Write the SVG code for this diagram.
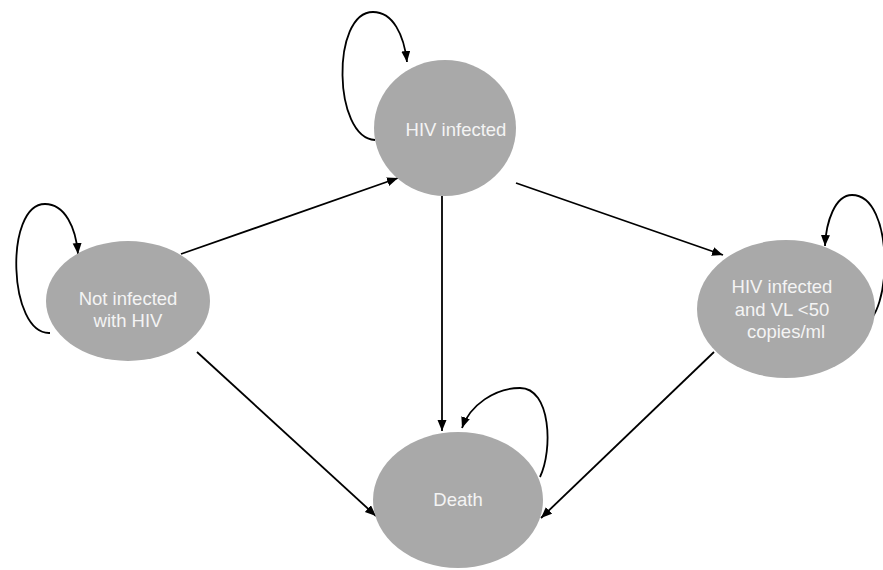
<svg xmlns="http://www.w3.org/2000/svg" width="883" height="570" viewBox="0 0 883 570">
<style>
.node{fill:#a9a9a9;}
.lbl{font-family:"Liberation Sans",Arial,sans-serif;font-size:18.5px;fill:#f4f4f4;text-anchor:middle;}
.edge{fill:none;stroke:#000;stroke-width:1.8;marker-end:url(#ah);}
</style>
<defs>
<marker id="ah" markerUnits="userSpaceOnUse" markerWidth="12" markerHeight="10" refX="11" refY="4.5" orient="auto">
<path d="M0,0 L11,4.5 L0,9 z" fill="#000"/>
</marker>
</defs>
<rect width="883" height="570" fill="#fff"/>
<g id="connectors">
<path class="edge" d="M181,254 L398,178"/>
<path class="edge" d="M442,196 L442,431"/>
<path class="edge" d="M516,183 L723,255"/>
<path class="edge" d="M197,352 L376,516"/>
<path class="edge" d="M714,352 L541,518"/>
<path class="edge" d="M375,140 C333,138 331,12 373,12 C393,12 404,35 407,62"/>
<path class="edge" d="M50,333 C8,335 4,204 45,204 C65,204 76,228 78,254"/>
<path class="edge" d="M863,324 C892,318 895,195 852,195 C835,195 826,222 825,246"/>
<path class="edge" d="M540,477 C553,450 551,388 520,388 C495,388 470,405 462,428"/>
</g>
<g id="hiv-infected">
<ellipse class="node" cx="445" cy="128" rx="71" ry="68"/>
<text class="lbl" x="456" y="136">HIV infected</text>
</g>
<g id="not-infected">
<ellipse class="node" cx="128" cy="301" rx="82" ry="60"/>
<text class="lbl" x="128" y="305">Not infected</text>
<text class="lbl" x="128" y="327">with HIV</text>
</g>
<g id="hiv-vl">
<ellipse class="node" cx="786" cy="309" rx="89" ry="69"/>
<text class="lbl" x="782" y="293">HIV infected</text>
<text class="lbl" x="782" y="316">and VL &lt;50</text>
<text class="lbl" x="786" y="338">copies/ml</text>
</g>
<g id="death">
<ellipse class="node" cx="458" cy="500" rx="85" ry="68"/>
<text class="lbl" x="458" y="506">Death</text>
</g>
</svg>
